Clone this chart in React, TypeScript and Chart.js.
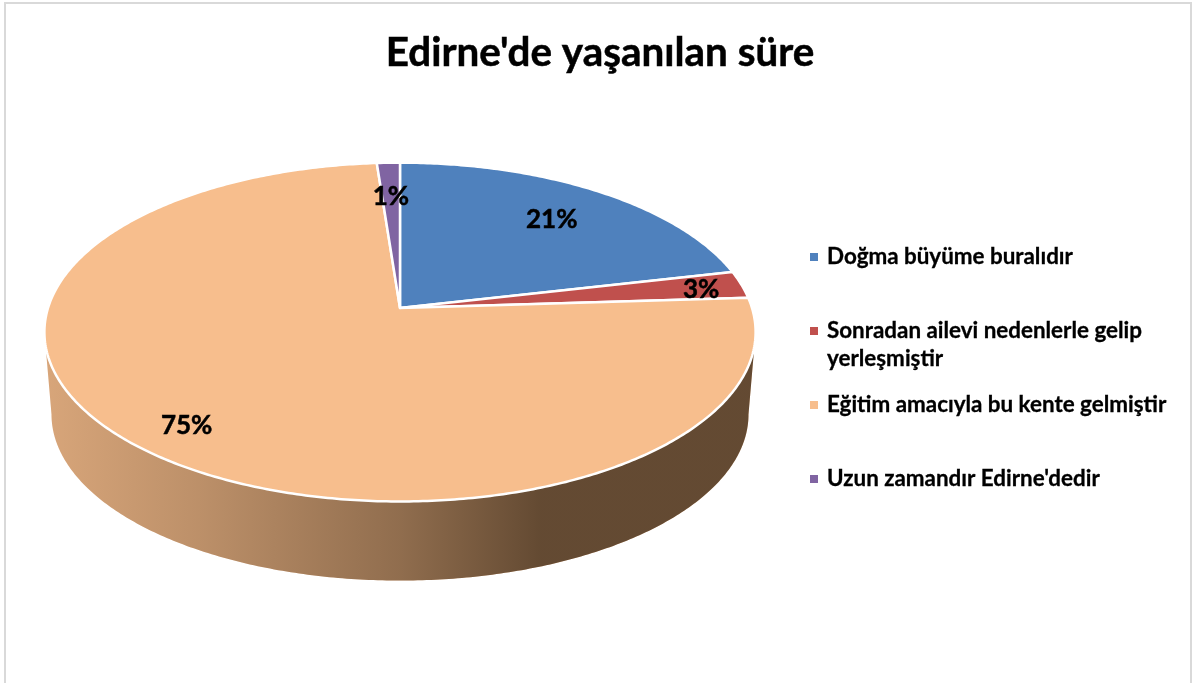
import React, { useEffect, useRef } from "react";
import { Chart, registerables, PieController, ArcElement } from "chart.js";

const TITLE = "Edirne'de yaşanılan süre";
const categories = [
  "Doğma büyüme buralıdır",
  "Sonradan ailevi nedenlerle gelip yerleşmiştir",
  "Eğitim amacıyla bu kente gelmiştir",
  "Uzun zamandır Edirne'dedir",
];
const legendLines = [
  ["Doğma büyüme buralıdır"],
  ["Sonradan ailevi nedenlerle gelip", "yerleşmiştir"],
  ["Eğitim amacıyla bu kente gelmiştir"],
  ["Uzun zamandır Edirne'dedir"],
];
const shares = [21.4, 2.6, 74.8, 1.2];
const sliceColors = ["#4F81BD", "#C0504D", "#F7BE8D", "#8064A2"];
const labelRadii = [0.75, 0.88, 0.84, 0.76];

const FONT = "Lato, Carlito, sans-serif";
const PROJ = { a: 166, b: 352, k: 0.142 };
const WALL = { scale: 0.98, drop: 106.5, pivot: 24 };

function project(theta: number, r = 1) {
  const x = Math.sin(theta) * r;
  const y = -Math.cos(theta) * r;
  const d = 1 - PROJ.k * y;
  return { X: (PROJ.b * x) / d, Y: (PROJ.a * y) / d };
}
function wallPoint(theta: number) {
  const p = project(theta);
  return { X: p.X * WALL.scale, Y: WALL.drop + (p.Y - WALL.pivot) * WALL.scale };
}

class PerspectiveArc extends ArcElement {
  static id = "perspectiveArc";
  draw(ctx: CanvasRenderingContext2D) {
    const { x, y, startAngle, endAngle } = this as any;
    const opts = (this as any).options;
    const t0 = startAngle + Math.PI / 2;
    const t1 = endAngle + Math.PI / 2;
    const frontA = Math.acos(-PROJ.k);
    const frontB = 2 * Math.PI - frontA;
    const w0 = Math.max(t0, frontA);
    const w1 = Math.min(t1, frontB);
    ctx.save();
    if (w1 > w0) {
      const pts: { X: number; Y: number }[] = [];
      const n = Math.ceil((w1 - w0) * 90);
      for (let i = 0; i <= n; i++) pts.push(project(w0 + ((w1 - w0) * i) / n));
      for (let i = n; i >= 0; i--) pts.push(wallPoint(w0 + ((w1 - w0) * i) / n));
      const path = () => {
        ctx.beginPath();
        pts.forEach((p, i) => (i ? ctx.lineTo(x + p.X, y + p.Y) : ctx.moveTo(x + p.X, y + p.Y)));
        ctx.closePath();
      };
      path();
      ctx.fillStyle = opts.backgroundColor;
      ctx.fill();
      const g = ctx.createLinearGradient(x - PROJ.b, 0, x + PROJ.b, 0);
      g.addColorStop(0, "rgba(50,35,20,0.16)");
      g.addColorStop(0.22, "rgba(50,35,20,0.3)");
      g.addColorStop(0.5, "rgba(50,35,20,0.52)");
      g.addColorStop(0.7, "rgba(50,35,20,0.75)");
      g.addColorStop(1, "rgba(50,35,20,0.75)");
      path();
      ctx.fillStyle = g;
      ctx.fill();
    }
    ctx.beginPath();
    ctx.moveTo(x, y);
    const steps = Math.max(2, Math.ceil((t1 - t0) * 90));
    for (let i = 0; i <= steps; i++) {
      const p = project(t0 + ((t1 - t0) * i) / steps);
      ctx.lineTo(x + p.X, y + p.Y);
    }
    ctx.closePath();
    ctx.fillStyle = opts.backgroundColor;
    ctx.fill();
    ctx.strokeStyle = opts.borderColor;
    ctx.lineWidth = opts.borderWidth;
    ctx.lineJoin = "round";
    ctx.stroke();
    ctx.restore();
  }
}

class PerspectivePie extends PieController {
  static id = "perspectivePie";
  static defaults = { dataElementType: "perspectiveArc" };
}

Chart.register(...registerables, PerspectiveArc, PerspectivePie);

const framePlugin = {
  id: "frame",
  beforeDraw(chart: any) {
    const { ctx, width, height } = chart;
    ctx.save();
    ctx.fillStyle = "#FFFFFF";
    ctx.fillRect(0, 0, width, height);
    ctx.strokeStyle = "#D9D9D9";
    ctx.lineWidth = 2;
    ctx.strokeRect(5, 3, width - 10, height + 20);
    ctx.restore();
  },
  afterDraw(chart: any) {
    const { ctx } = chart;
    ctx.save();
    ctx.fillStyle = "#000000";
    ctx.strokeStyle = "#000000";
    ctx.textBaseline = "middle";
    ctx.textAlign = "center";
    ctx.lineWidth = 0.5;
    ctx.font = `bold 40.4px ${FONT}`;
    ctx.fillText(TITLE, 600, 53);
    ctx.strokeText(TITLE, 600, 53);

    const meta = chart.getDatasetMeta(0);
    ctx.font = `bold 26px ${FONT}`;
    meta.data.forEach((arc: any, i: number) => {
      const mid = (arc.startAngle + arc.endAngle) / 2 + Math.PI / 2;
      const p = project(mid, labelRadii[i]);
      const text = `${Math.round(shares[i])}%`;
      ctx.fillText(text, arc.x + p.X, arc.y + p.Y + 2);
      ctx.strokeText(text, arc.x + p.X, arc.y + p.Y + 2);
    });

    ctx.textAlign = "left";
    ctx.lineWidth = 0.3;
    ctx.font = `bold 22.4px ${FONT}`;
    legendLines.forEach((lines, i) => {
      const cy = 257 + i * 74;
      ctx.fillStyle = sliceColors[i];
      ctx.fillRect(810, cy - 4, 8, 8);
      ctx.fillStyle = "#000000";
      lines.forEach((line, j) => {
        ctx.fillText(line, 827, cy + j * 28);
        ctx.strokeText(line, 827, cy + j * 28);
      });
    });
    ctx.restore();
  },
};

export default function App() {
  const ref = useRef<HTMLCanvasElement>(null);
  useEffect(() => {
    const chart = new Chart(ref.current!, {
      type: "perspectivePie" as any,
      data: {
        labels: categories,
        datasets: [
          {
            data: shares,
            backgroundColor: sliceColors,
            borderColor: "#FFFFFF",
            borderWidth: 2.5,
          },
        ],
      },
      options: {
        responsive: false,
        animation: false,
        layout: { padding: { left: 150, right: 546, top: 58, bottom: 125 } },
        plugins: { legend: { display: false }, title: { display: false }, tooltip: { enabled: false } },
      },
      plugins: [framePlugin],
    } as any);
    return () => chart.destroy();
  }, []);
  return (
    <canvas
      ref={ref}
      width={1196}
      height={683}
      style={{ position: "absolute", left: 0, top: 0, display: "block" }}
    />
  );
}
